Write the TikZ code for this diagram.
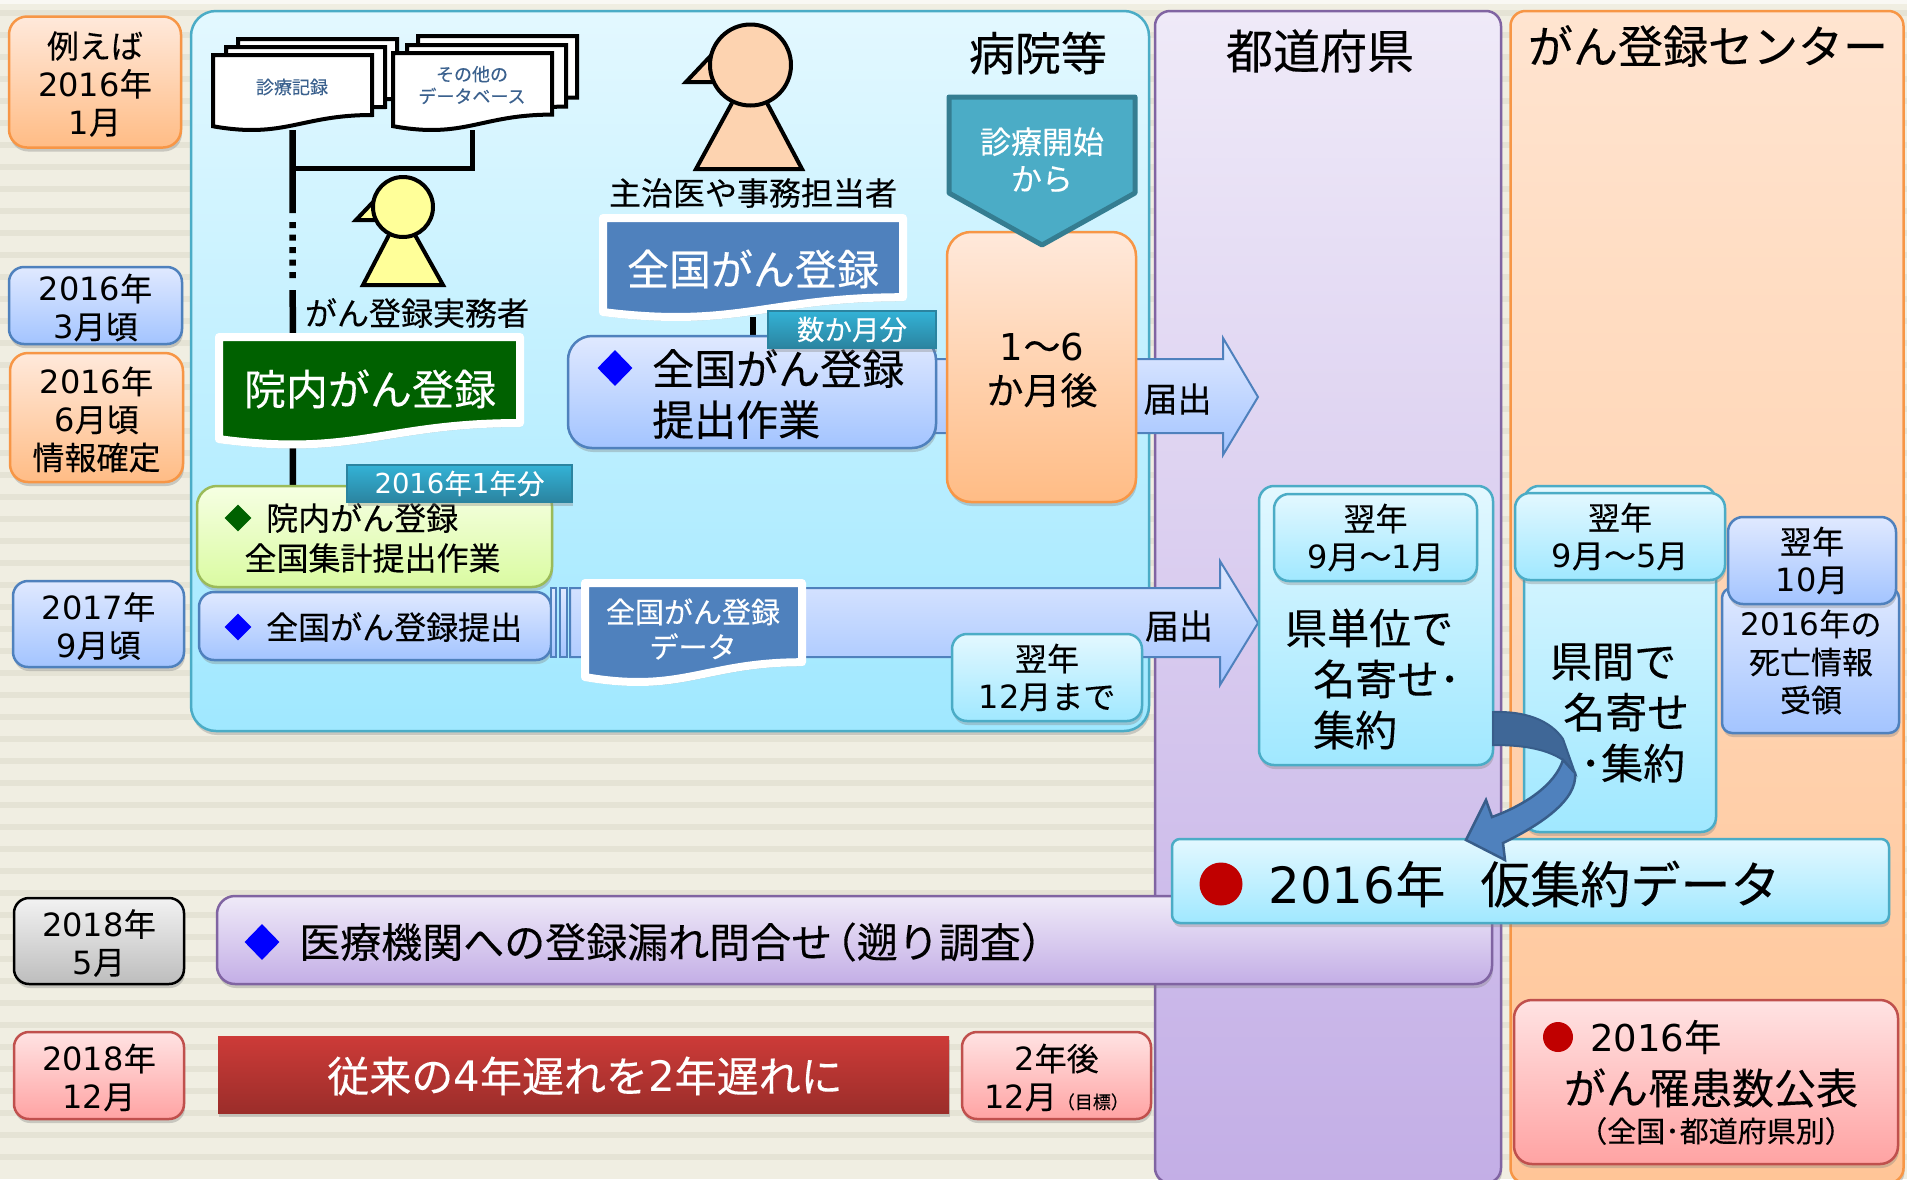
\documentclass[tikz,border=0pt]{standalone}
\usepackage{fontspec}
\setmainfont{Noto Sans CJK JP}[FakeBold=.25]
\newfontfamily\dgfont{DejaVu Sans}
\newcommand\num[1]{{\dgfont #1}}
\usetikzlibrary{shapes.geometric, shadows, positioning}
\tikzset{
softshadow/.style={drop shadow={shadow xshift=1pt, shadow yshift=-4pt, opacity=.35}}, % used by almost every box
sizeS/.style={font=\fontsize{32}{38}\selectfont},
sizeM/.style={font=\fontsize{42}{51}\selectfont},
sizeL/.style={font=\fontsize{50}{60}\selectfont},
blueshade/.style={top color=bluetop, bottom color=bluebot, draw=blueline},
orangeshade/.style={top color=orangetop, bottom color=orangebot, draw=orangeline},
pinkshade/.style={top color=pinktop, bottom color=pinkbot, draw=pinkline},
grayshade/.style={top color=graytop, bottom color=graybot, draw=black},
greenshade/.style={top color=greentop, bottom color=greenbot, draw=greenline},
cyanshade/.style={top color=cyantop, bottom color=cyanbot, draw=cyanline},
purpleshade/.style={top color=purpletop, bottom color=purplebot, draw=purpleline},
tagshade/.style={top color=tagtop, bottom color=tagbot, draw=tagbot},
box/.style={rectangle, rounded corners=15pt, line width=2.5pt, align=center, inner sep=0pt, softshadow, sizeS},
textleft/.style={anchor=west, inner sep=0pt, align=left}, % text starts exactly at the coordinate
boxtext/.style={sizeS, align=center, yshift=-2pt}, % sits a little under the middle of its box
docline/.style={draw=black, fill=white, line width=4pt, line join=miter},
banner/.style={draw=white, line width=8pt, line join=round, softshadow},
tag/.style={tagshade, rectangle, line width=1.5pt, text=white, inner sep=0pt, softshadow, font=\fontsize{27.5}{30}\selectfont},
markdiamond/.style={shape=diamond, inner sep=0pt, minimum width=35pt, minimum height=36pt},
redmark/.style={circle, fill=dotred, inner sep=0pt},
headshape/.style={circle, draw=black, line width=4pt, inner sep=0pt},
bodyshape/.style={draw=black, line width=4pt, line join=miter},
}
\definecolor{paper}{HTML}{F0EEE2}
\definecolor{stripe}{HTML}{E5E3D5}
\definecolor{bluetop}{HTML}{E0E9FF}
\definecolor{bluebot}{HTML}{A3C4FF}
\definecolor{blueline}{HTML}{4F81BD}
\definecolor{orangetop}{HTML}{FFE9DB}
\definecolor{orangebot}{HTML}{FFBC85}
\definecolor{orangeline}{HTML}{F79646}
\definecolor{columntop}{HTML}{FFE4D0}
\definecolor{columnbot}{HTML}{FFC597}
\definecolor{pinktop}{HTML}{FFE3E3}
\definecolor{pinkbot}{HTML}{FFA3A3}
\definecolor{pinkline}{HTML}{C0504D}
\definecolor{graytop}{HTML}{F2F2F2}
\definecolor{graybot}{HTML}{BDBDBD}
\definecolor{greentop}{HTML}{F6FFE3}
\definecolor{greenbot}{HTML}{DAFBA1}
\definecolor{greenline}{HTML}{9BBB59}
\definecolor{cyantop}{HTML}{E3F8FF}
\definecolor{cyanbot}{HTML}{A0E8FF}
\definecolor{cyanline}{HTML}{4BACC6}
\definecolor{purpletop}{HTML}{EFEAF8}
\definecolor{purplebot}{HTML}{C3AEE6}
\definecolor{purpleline}{HTML}{8064A2}
\definecolor{tagtop}{HTML}{33B2D6}
\definecolor{tagbot}{HTML}{2B84A0}
\definecolor{dotred}{HTML}{C00000}
\definecolor{bandblue}{HTML}{4F81BD}
\definecolor{banddark}{HTML}{3F6797}
\definecolor{bandline}{HTML}{385D8A}
\definecolor{pentafill}{HTML}{4BACC6}
\definecolor{pentaline}{HTML}{357D91}
\definecolor{bartop}{HTML}{CD3B38}
\definecolor{barbot}{HTML}{9B2D2A}
\definecolor{greenfill}{HTML}{006100}
\definecolor{skin}{HTML}{FDD3B0}
\definecolor{paleyellow}{HTML}{FFFF99}
% wavy sheet: style, x, y, width, height, name
\newcommand\wavedoc[6]{
\path[#1] (#2,#3) -- (#2+#4,#3) -- (#2+#4,#3+.8*#5)
.. controls (#2+.55*#4,#3+.8*#5) and (#2+.45*#4,#3+1.12*#5) .. (#2,#3+.95*#5) -- cycle;
\node[inner sep=0pt, minimum width=#4 pt, minimum height=#5 pt] (#6) at (#2+.5*#4,#3+.5*#5) {};
}
\begin{document}
\begin{tikzpicture}[x=1pt, y=-1pt]
\useasboundingbox (0,0) rectangle (1907,1179);
% paper and stripes
\fill[paper] (0,0) rectangle (1907,1179);
\fill[white!60!paper] (0,0) rectangle (1907,4);
\foreach \s in {10,32,...,1170}
\fill[stripe] (0,\s) rectangle (1907,\s+6);
% three columns
\node[box, cyanshade, rounded corners=25pt, minimum width=958pt, minimum height=720pt] (hospital) at (670,371) {};
\node[box, purpleshade, minimum width=346pt, minimum height=1172pt] (prefecture) at (1328,597) {};
\node[box, orangeshade, top color=columntop, bottom color=columnbot, minimum width=393pt, minimum height=1172pt] (center) at (1707,597) {};
\node[font=\fontsize{46}{50}\selectfont] (hospitaltitle) at (1038,53) {病院等};
\node[font=\fontsize{47}{50}\selectfont] (prefecturetitle) at (1320,51) {都道府県};
\node[font=\fontsize{45}{50}\selectfont] (centertitle) at (1708,46) {がん登録センター};
% dates
\node[box, orangeshade, rounded corners=18pt, minimum width=172pt, minimum height=131pt] (date1) at (95,82) {};
\node[boxtext] (date1text) at (date1) {例えば\\\num{2016}年\\\num{1}月};
\node[box, blueshade, minimum width=173pt, minimum height=77pt] (date2) at (95.5,305.5) {};
\node[boxtext] (date2text) at (date2) {\num{2016}年\\\num{3}月頃};
\node[box, orangeshade, rounded corners=18pt, minimum width=173pt, minimum height=129pt] (date3) at (96.5,417.5) {};
\node[boxtext] (date3text) at (date3) {\num{2016}年\\\num{6}月頃\\情報確定};
\node[box, blueshade, minimum width=171pt, minimum height=86pt] (date4) at (98.5,624) {};
\node[boxtext] (date4text) at (date4) {\num{2017}年\\\num{9}月頃};
\node[box, grayshade, minimum width=170pt, minimum height=86pt] (date5) at (99,941) {};
\node[boxtext] (date5text) at (date5) {\num{2018}年\\\num{5}月};
\node[box, pinkshade, minimum width=170pt, minimum height=87pt] (date6) at (99,1075.5) {};
\node[boxtext] (date6text) at (date6) {\num{2018}年\\\num{12}月};
% record sheets
\wavedoc{docline}{238}{39}{159}{75}{kiroku3}
\wavedoc{docline}{226}{47}{159}{75}{kiroku2}
\wavedoc{docline}{213}{55}{159}{75}{kiroku}
\wavedoc{docline}{418}{36}{159}{77}{other3}
\wavedoc{docline}{407}{45}{159}{77}{other2}
\wavedoc{docline}{393}{53}{159}{77}{other}
\node[text=blueline!75!black, font=\fontsize{18}{22}\selectfont] (kirokutext) at (292,87) {診療記録};
\node[text=blueline!75!black, align=center, font=\fontsize{18}{22}\selectfont] (othertext) at (472,85) {その他の\\データベース};
% lines from the sheets
\coordinate (lineend) at (293,488);
\coordinate (branch) at (293,168);
\draw[line width=6.5pt, dash pattern=on 83pt off 9pt on 6pt off 6.5pt on 6pt off 6.5pt on 6pt off 6.5pt on 6pt off 6.5pt on 6pt off 12pt on 210pt] (kiroku.south) -- (lineend);
\draw[line width=5pt, line join=miter] (other.south) |- (branch);
% two people
\draw[bodyshape, fill=paleyellow] (389,235) -- (363,285) -- (443,285) -- (415,235);
\draw[bodyshape, fill=paleyellow] (375,200) -- (356,220) -- (378,220);
\node[headshape, fill=paleyellow, minimum size=60pt] (clerkhead) at (403,207) {};
\node[sizeS] (clerk) at (417,313) {がん登録実務者};
\draw[bodyshape, fill=skin] (732,103) -- (696,169) -- (802,169) -- (767,103);
\draw[bodyshape, fill=skin] (711.5,55) -- (686,82) -- (714,82);
\node[headshape, fill=skin, minimum size=81pt] (doctorhead) at (750.5,65) {};
\node[sizeS] (doctor) at (753,193) {主治医や事務担当者};
% green register
\wavedoc{banner, fill=greenfill}{219}{337}{301}{107.5}{innai}
\node[text=white, font=\fontsize{42}{50}\selectfont] (innaitext) at (370,389) {院内がん登録};
\node[box, greenshade, rounded corners=20pt, minimum width=355pt, minimum height=101pt] (innaijob) at (374.5,536.5) {};
\node[markdiamond, fill=greenfill, minimum width=27pt, minimum height=27pt] (innaimark) at (238,518) {};
\node[textleft, sizeS] (innaijobtext1) at (266,518) {院内がん登録};
\node[sizeS] (innaijobtext2) at (372.5,558) {全国集計提出作業};
\node[tag, minimum width=225pt, minimum height=37pt] (innaitag) at (459.5,483.5) {\num{2016}年\num{1}年分};
% national register
\wavedoc{banner, fill=blueline}{603}{218}{300}{99}{zenkoku}
\node[text=white, font=\fontsize{42}{50}\selectfont] (zenkokutext) at (753,269) {全国がん登録};
\coordinate (zenkokufoot) at (753,337);
\draw[line width=6pt] (zenkoku.south) -- (zenkokufoot);
\draw[blueshade, line width=2pt] (930,359) -- (1223,359) -- (1223,338) -- (1258,397) -- (1223,455) -- (1223,433) -- (930,433) -- cycle;
\node[box, blueshade, rounded corners=24pt, minimum width=368pt, minimum height=112pt] (zenkokujob) at (752,392) {};
\node[markdiamond, fill=blue] (zenkokumark) at (615,368) {};
\node[textleft, font=\fontsize{42}{51}\selectfont] (zenkokujobtext) at (652,394) {全国がん登録\\提出作業};
\node[tag, minimum width=168pt, minimum height=37pt] (zenkokutag) at (852,329.5) {数か月分};
\node[box, orangeshade, rounded corners=24pt, minimum width=189pt, minimum height=270pt] (months) at (1041.5,367) {};
\node[align=center, font=\fontsize{37}{44}\selectfont] (monthstext) at (1042,370) {\num{1}～\num{6}\\か月後};
\draw[draw=pentaline, fill=pentafill, line width=5pt, line join=round] (949,97) -- (1135,97) -- (1135,193) -- (1042,245) -- (949,193) -- cycle;
\node[text=white, align=center, font=\fontsize{31}{37}\selectfont] (starttext) at (1042,160) {診療開始\\から};
\node[font=\fontsize{34}{40}\selectfont] (todoke1) at (1177.5,399) {届出};
% submission row
\node[box, blueshade, minimum width=352pt, minimum height=68pt] (submit) at (375,626) {};
\node[markdiamond, fill=blue, minimum width=27pt, minimum height=27pt] (submitmark) at (238,627) {};
\node[textleft, sizeS] (submittext) at (266,627) {全国がん登録提出};
\draw[blueshade, line width=1.5pt] (551,588) rectangle (556,657);
\draw[blueshade, line width=1.5pt] (560,588) rectangle (567,657);
\draw[blueshade, line width=2pt] (570,588) -- (1220,588) -- (1220,561) -- (1258,623) -- (1220,685) -- (1220,657) -- (570,657) -- cycle;
\wavedoc{banner, fill=blueline}{585}{583}{217}{99}{submitdata}
\node[text=white, align=center, font=\fontsize{29}{35}\selectfont] (submitdatatext) at (693,629) {全国がん登録\\データ};
\node[box, cyanshade, minimum width=190pt, minimum height=87pt] (nextdec) at (1047,677.5) {翌年\\\num{12}月まで};
\node[font=\fontsize{34}{40}\selectfont] (todoke2) at (1179,626) {届出};
% prefecture work
\node[box, cyanshade, minimum width=234pt, minimum height=279pt] (prefbox) at (1376,625.5) {};
\node[box, cyanshade, minimum width=203pt, minimum height=87pt] (prefdate) at (1375.5,537.5) {翌年\\\num{9}月～\num{1}月};
\node[textleft, sizeM] (preftext) at (1285,679) {県単位で\\\hspace*{28pt}名寄せ･\\\hspace*{28pt}集約};
% center work
\node[box, cyanshade, minimum width=192pt, minimum height=346pt] (centerbox) at (1620,659) {};
\node[box, cyanshade, minimum width=210pt, minimum height=87pt] (centerdate) at (1620,536.5) {翌年\\\num{9}月～\num{5}月};
\node[textleft, sizeM] (centertext) at (1550,713) {県間で\\\hspace*{13pt}名寄せ\\\hspace*{30pt}･集約};
\node[box, blueshade, rounded corners=10pt, minimum width=177pt, minimum height=145pt] (death) at (1810.5,660.5) {};
\node[align=center, font=\fontsize{31}{38}\selectfont] (deathtext) at (1811,662) {\num{2016}年の\\死亡情報\\受領};
\node[box, blueshade, minimum width=168pt, minimum height=87pt] (deathdate) at (1812,560.5) {翌年\\\num{10}月};
% inquiry and goal rows
\node[box, purpleshade, rounded corners=18pt, minimum width=1275pt, minimum height=88pt] (inquiry) at (854.5,940) {};
\node[markdiamond, fill=blue] (inquirymark) at (262,942) {};
\node[textleft, font=\fontsize{41}{44}\selectfont] (inquirytext) at (299,942) {医療機関への登録漏れ問合せ\hspace{-.4em}（遡り調査）};
\node[rectangle, top color=bartop, bottom color=barbot, text=white, minimum width=731pt, minimum height=77pt, softshadow, font=\fontsize{42}{50}\selectfont] (goalbar) at (583.5,1074.5) {};
\node[text=white, font=\fontsize{42}{50}\selectfont] (goalbartext) at (585,1076) {従来の\num{4}年遅れを\num{2}年遅れに};
\node[box, pinkshade, minimum width=189pt, minimum height=87pt] (goalbox) at (1056.5,1075.5) {};
\node[boxtext] (goalboxtext) at (goalbox) {\num{2}年後\\\num{12}月{\fontsize{18}{18}\selectfont（目標）}};
% provisional data
\node[box, cyanshade, rounded corners=8pt, minimum width=717pt, minimum height=84pt] (tempdata) at (1530.5,881) {};
\node[redmark, minimum size=43pt] (tempmark) at (1221,884) {};
\node[textleft, sizeL] (temptext) at (1268,884) {\num{2016}年\hspace{.7em}仮集約データ};
% publish
\node[box, pinkshade, rounded corners=18pt, minimum width=384pt, minimum height=164pt] (publish) at (1706,1082) {};
\node[redmark, minimum size=30pt] (publishmark) at (1558,1037) {};
\node[textleft, font=\fontsize{37}{44}\selectfont] (publishtext1) at (1590,1037) {\num{2016}年};
\node[font=\fontsize{42}{48}\selectfont] (publishtext2) at (1711,1088) {がん罹患数公表};
\node[font=\fontsize{29}{32}\selectfont] (publishtext3) at (1716,1131) {（全国･都道府県別）};
% curved arrow
\draw[draw=bandline, fill=banddark, line width=2pt] (1493,712) .. controls (1525,711) and (1550,720) .. (1563,739) -- (1575,773) -- (1563,760) .. controls (1545,748) and (1520,745) .. (1493,745) -- cycle;
\draw[draw=bandline, fill=bandblue, line width=2.5pt, line join=miter] (1563,760) .. controls (1555,785) and (1525,805) .. (1492,817) -- (1486,800) -- (1466,840) -- (1505,860) -- (1503,843) .. controls (1540,825) and (1578,800) .. (1575,773) -- cycle;
\end{tikzpicture}
\end{document}
